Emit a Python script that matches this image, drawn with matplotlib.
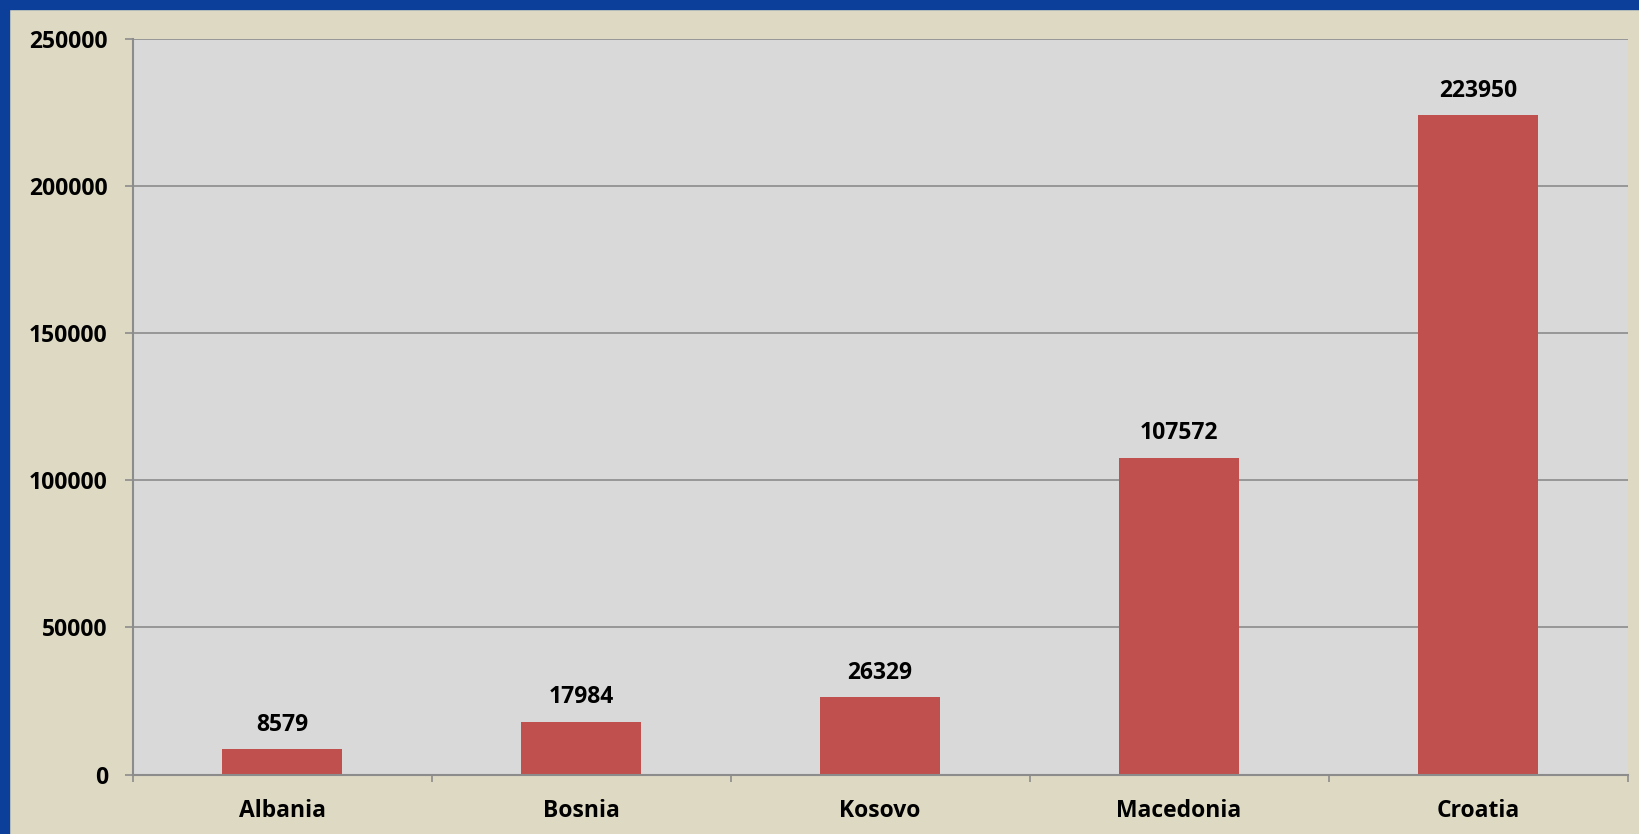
import numpy as np
import matplotlib
matplotlib.use("Agg")
import matplotlib.pyplot as plt
from matplotlib.patches import Rectangle

# --- data ---
countries = ["Albania", "Bosnia", "Kosovo", "Macedonia", "Croatia"]
values = [8579, 17984, 26329, 107572, 223950]
y_ticks = [0, 50000, 100000, 150000, 200000, 250000]

plt.rcParams["font.family"] = ["Open Sans", "DejaVu Sans"]
FS = 16.5

fig = plt.figure(figsize=(16.39, 8.34), dpi=100, facecolor="#ddd9c3")
ax = fig.add_axes([0.081, 0.0712, 0.912, 0.8824])
ax.set_facecolor("#d9d9d9")

# blue frame on top and left
fig.patches.append(Rectangle((0, 0), 9 / 1639, 1, transform=fig.transFigure,
                             color="#0b3f9a", zorder=0))
fig.patches.append(Rectangle((0, 1 - 9 / 834), 1, 9 / 834, transform=fig.transFigure,
                             color="#0b3f9a", zorder=0))

x = np.arange(len(countries))
ax.bar(x, values, width=0.4, color="#c0504d", zorder=3)

for xi, v in zip(x, values):
    ax.annotate(str(v), (xi, v), xytext=(0, 9), textcoords="offset points",
                ha="center", va="bottom", fontsize=FS, fontweight="bold")

ax.set_xlim(-0.5, len(countries) - 0.5)
ax.set_ylim(0, 250000)
ax.set_yticks(y_ticks)
ax.set_yticklabels([str(t) for t in y_ticks], fontsize=FS, fontweight="bold")
ax.grid(axis="y", color="#8c8c8c", linewidth=1.2, zorder=1)

ax.set_xticks(x)
ax.set_xticklabels(countries, fontsize=FS, fontweight="bold")
ax.set_xticks(np.arange(len(countries) + 1) - 0.5, minor=True)
ax.tick_params(axis="x", which="major", length=0, pad=17.5)
ax.tick_params(axis="x", which="minor", length=5, width=1.2, color="#8c8c8c", direction="out")
ax.tick_params(axis="y", length=6, width=1.2, color="#8c8c8c", pad=12)

for side in ["top", "right"]:
    ax.spines[side].set_visible(False)
for side in ["left", "bottom"]:
    ax.spines[side].set_color("#8c8c8c")
    ax.spines[side].set_linewidth(1.5)
    ax.spines[side].set_zorder(4)

plt.savefig("out.png", dpi=100, facecolor=fig.get_facecolor())
plt.close()
